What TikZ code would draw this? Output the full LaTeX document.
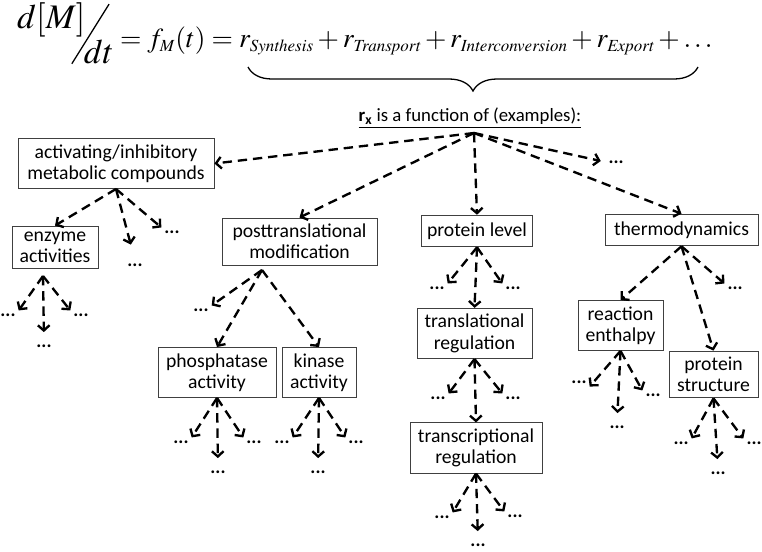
\documentclass[tikz,border=0pt]{standalone}
\usepackage{mathptmx}
\usepackage[no-math]{fontspec}
\setmainfont{Carlito}
\usepackage{graphicx}
\DeclareMathSizes{23.5}{23.5}{14.5}{10}
\usetikzlibrary{arrows.meta,decorations.pathreplacing}
\tikzset{
  box/.style={draw=black!75, line width=0.8pt, align=center, inner ysep=5pt,
    minimum width=#1*0.03cm, minimum height=27pt, font=\fontsize{16.8}{18.3}\selectfont},
  dots/.style={inner sep=2.5pt, font=\fontsize{16}{18}\selectfont\bfseries},
  link/.style={line width=2pt, dash pattern=on 8pt off 5pt,
    -{Straight Barb[length=4.5pt,width=10pt]}},
  tomid/.style={link, shorten >=8pt},
}

\begin{document}
\begin{tikzpicture}[x=0.03cm, y=-0.03cm]
  \useasboundingbox (0,0) rectangle (762,551);
  % rate equation
  \node[anchor=base west, inner sep=0pt, font=\fontsize{23.5}{30}\selectfont] (eq) at (17,47)
    {$\raisebox{16pt}{\scalebox{1.25}{$d[M]$}}\kern-12pt\raisebox{-14pt}{\rotatebox{-32}{\rule{1.1pt}{60pt}}}\kern-22pt\raisebox{-14pt}{\scalebox{1.25}{$dt$}}
      = f_M(t) = r_{\mathit{Synthesis}} + r_{\mathit{Transport}} + r_{\mathit{Interconversion}} + r_{\mathit{Export}} + \ldots$};
  \draw[decorate, decoration={brace, mirror, amplitude=0.72cm}, line width=1.1pt] (248,67) -- (698,67);
  % question
  \node[font=\fontsize{16}{18}\selectfont] (head) at (470,118)
    {\underline{\textbf{r}\textsubscript{\textbf{x}} is a function of (examples):}};
  \coordinate (root) at (474,133);

  % boxes
  \node[box=196] (act) at (116,163.5) {activating/inhibitory\\metabolic compounds};
  \node[box=86] (enz) at (55,247.5) {enzyme\\activities};
  \node[box=155] (ptm) at (299.5,241.5) {posttranslational\\modification};
  \node[box=111] (prot) at (477,231) {protein level};
  \node[box=153] (thermo) at (681.5,230) {thermodynamics};
  \node[box=118] (phos) at (217,372.5) {phosphatase\\activity};
  \node[box=74] (kin) at (319,372.5) {kinase\\activity};
  \node[box=115] (trl) at (474.5,333.5) {translational\\regulation};
  \node[box=132] (trc) at (476,448) {transcriptional\\regulation};
  \node[box=85] (enth) at (620.5,325.5) {reaction\\enthalpy};
  \node[box=89] (struc) at (713.5,374.5) {protein\\structure};

  % dots
  \node[dots] (root-r) at (616,162) {...};
  \node[dots] (act-d) at (135,265) {...};
  \node[dots] (act-r) at (172,232) {...};
  \node[dots] (enz-l) at (8,315) {...};
  \node[dots] (enz-d) at (44,346) {...};
  \node[dots] (enz-r) at (81,315) {...};
  \node[dots] (ptm-l) at (201,310) {...};
  \node[dots] (phos-l) at (181,442) {...};
  \node[dots] (phos-d) at (218,472) {...};
  \node[dots] (phos-r) at (254,442) {...};
  \node[dots] (kin-l) at (282,442) {...};
  \node[dots] (kin-d) at (318,472) {...};
  \node[dots] (kin-r) at (356,442) {...};
  \node[dots] (prot-l) at (437,288) {...};
  \node[dots] (prot-r) at (513,288) {...};
  \node[dots] (trl-l) at (438,398) {...};
  \node[dots] (trl-r) at (513,398) {...};
  \node[dots] (trc-l) at (442,517) {...};
  \node[dots] (trc-d) at (478,545) {...};
  \node[dots] (trc-r) at (515,516) {...};
  \node[dots] (thermo-r) at (735,288) {...};
  \node[dots] (enth-l) at (579,382) {...};
  \node[dots] (enth-d) at (617,427) {...};
  \node[dots] (enth-r) at (653,395) {...};
  \node[dots] (struc-l) at (681,443) {...};
  \node[dots] (struc-d) at (718,473) {...};
  \node[dots] (struc-r) at (754,443) {...};

  % from the question
  \draw[link] (root) -- (act.east);
  \draw[link] (root) -- (ptm.north);
  \draw[link] (root) -- (prot.north);
  \draw[link] (root) -- (thermo.north);
  \draw[link, shorten >=4pt] (root) -- (root-r.west);
  % metabolic compounds
  \draw[link] (act.south) -- (enz.north);
  \draw[tomid, shorten >=14pt] (act.south) -- (act-d.north);
  \draw[link] (act.south) -- (act-r.north west);
  % enzyme activities
  \coordinate (enz-o) at (43,276);
  \draw[link] (enz-o) -- (enz-l.north east);
  \draw[tomid] (enz-o) -- (enz-d.north);
  \draw[link] (enz-o) -- (enz-r.north west);
  % posttranslational modification
  \coordinate (ptm-o) at (262,270);
  \draw[link] (ptm-o) -- (ptm-l.north east);
  \draw[link] (ptm-o) -- (phos.north);
  \draw[link] (ptm-o) -- (kin.north);
  % phosphatase
  \draw[link] (phos.south) -- (phos-l.north east);
  \draw[tomid] (phos.south) -- (phos-d.north);
  \draw[link] (phos.south) -- (phos-r.north west);
  % kinase
  \draw[link] (kin.south) -- (kin-l.north east);
  \draw[tomid] (kin.south) -- (kin-d.north);
  \draw[link] (kin.south) -- (kin-r.north west);
  % protein level
  \draw[link] (prot.south) -- (prot-l.north east);
  \draw[link] (prot.south) -- (trl.north);
  \draw[link] (prot.south) -- (prot-r.north west);
  % translational regulation
  \draw[link] (trl.south) -- (trl-l.north east);
  \draw[link] (trl.south) -- (trc.north);
  \draw[link] (trl.south) -- (trl-r.north west);
  % transcriptional regulation
  \draw[link] (trc.south) -- (trc-l.north east);
  \draw[tomid] (trc.south) -- (trc-d.north);
  \draw[link] (trc.south) -- (trc-r.north west);
  % thermodynamics
  \draw[link] (thermo.south) -- (enth.north);
  \draw[link] (thermo.south) -- (struc.north);
  \draw[link] (thermo.south) -- (thermo-r.north west);
  % reaction enthalpy
  \draw[link] (enth.south) -- (enth-l.south east);
  \draw[tomid] (enth.south) -- (enth-d.north);
  \draw[link] (enth.south) -- (enth-r.north west);
  % protein structure
  \draw[link] (struc.south) -- (struc-l.north east);
  \draw[tomid] (struc.south) -- (struc-d.north);
  \draw[link] (struc.south) -- (struc-r.north west);
\end{tikzpicture}
\end{document}
